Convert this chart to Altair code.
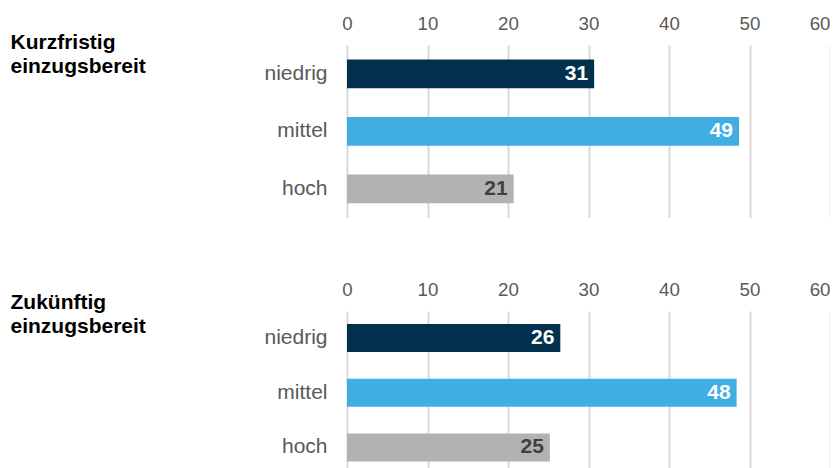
import altair as alt
import pandas as pd

categories = ["niedrig", "mittel", "hoch"]
bar_colors = ["#02314d", "#40aee3", "#b2b2b2"]
label_colors = ["#ffffff", "#ffffff", "#404040"]

kurz_values = [30.7, 48.7, 20.7]
kurz_labels = [31, 49, 21]
zuk_values = [26.5, 48.4, 25.2]
zuk_labels = [26, 48, 25]

ticks = [0, 10, 20, 30, 40, 50, 60]

FONT = "Liberation Sans"


def panel(values, labels, title, title_x, title_y, height, pad_inner, pad_outer):
    df = pd.DataFrame({
        "cat": categories,
        "value": values,
        "label": [str(v) for v in labels],
        "tc": label_colors,
    })
    y = alt.Y(
        "cat:N",
        sort=categories,
        scale=alt.Scale(paddingInner=pad_inner, paddingOuter=pad_outer),
        axis=alt.Axis(
            title=title,
            titleAngle=0,
            titleAlign="left",
            titleBaseline="alphabetic",
            titleX=title_x,
            titleY=title_y,
            titleFontSize=21,
            titleFontWeight="bold",
            titleColor="#000000",
            titleFont=FONT,
            titleLineHeight=24,
            domain=False,
            ticks=False,
            labelFont=FONT,
            labelFontSize=21,
            labelColor="#595959",
            labelPadding=20,
            grid=False,
        ),
    )
    x = alt.X(
        "value:Q",
        scale=alt.Scale(domain=[0, 60], nice=False, zero=True),
        axis=alt.Axis(
            orient="top",
            values=ticks,
            title=None,
            domain=False,
            ticks=False,
            tickSize=0,
            labelFont=FONT,
            labelFontSize=18.7,
            labelColor="#595959",
            labelPadding=12,
            labelFlush=False,
            labelOverlap=False,
            labelAlign={"condition": {"test": "datum.value == 60", "value": "right"}, "value": "center"},
            grid=True,
            gridColor="#d9d9d9",
            gridWidth=2,
        ),
    )
    bars = alt.Chart(df).mark_bar().encode(
        x=x,
        y=y,
        color=alt.Color("cat:N", scale=alt.Scale(domain=categories, range=bar_colors), legend=None),
    )
    text = alt.Chart(df).mark_text(
        align="right", baseline="middle", dx=-6, fontWeight="bold", fontSize=21, font=FONT
    ).encode(
        x=alt.X("value:Q"),
        y=alt.Y("cat:N", sort=categories),
        text="label:N",
        color=alt.Color("tc:N", scale=None),
    )
    return alt.layer(bars, text).properties(width=483, height=height)


top = panel(kurz_values, kurz_labels, ["Kurzfristig", "einzugsbereit"], -337, 3, 172.5, 0.5, 0.25)
bottom = panel(zuk_values, zuk_labels, ["Zukünftig", "einzugsbereit"], -337, -3, 163.5, 0.49, 0.24)

chart = alt.vconcat(top, bottom, spacing=62).properties(
    padding={"left": 2, "top": 6, "right": 0, "bottom": 0}
).configure(background="white", view=alt.ViewConfig(stroke=None))

chart.save("out.html", embed_options={"renderer": "svg", "actions": False})
